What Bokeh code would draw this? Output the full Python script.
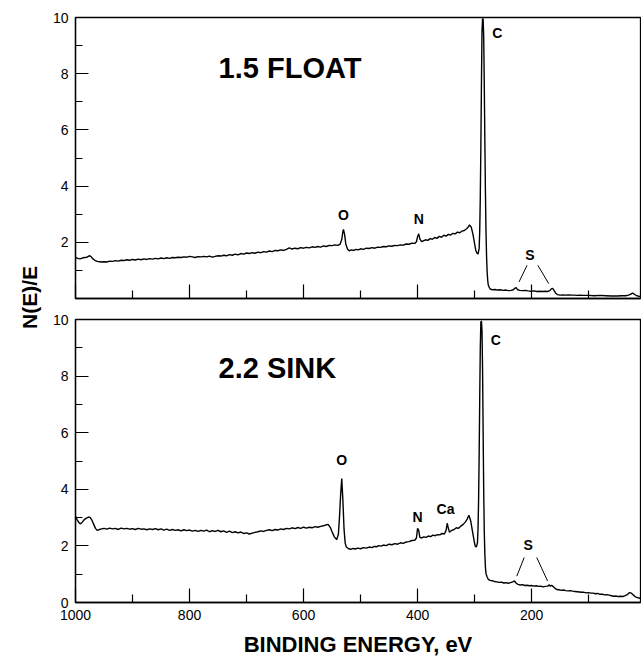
import math
from bokeh.plotting import figure
from bokeh.models import Range1d, FixedTicker, Label, CustomLabelingPolicy
from bokeh.layouts import row, column
from bokeh.embed import file_html
from bokeh.resources import INLINE

FONT = "Liberation Sans"

# ---------------- data (binding energy in eV, N(E)/E) ----------------
float_energy = [1000, 996, 992, 988, 984, 980, 976, 973, 970, 966, 962, 958, 954, 950, 945, 940, 935, 930,
                925, 920, 915, 910, 905, 900, 895, 890, 885, 880, 875, 870, 865, 860, 855, 850, 845, 840,
                835, 830, 825, 820, 815, 810, 805, 800, 795, 790, 785, 780, 775, 770, 765, 760, 755, 750,
                745, 740, 735, 730, 725, 720, 715, 710, 705, 700, 695, 690, 685, 680, 675, 670, 665, 660,
                655, 650, 645, 640, 635, 630, 625, 620, 615, 610, 605, 600, 595, 590, 585, 580, 575, 570,
                565, 560, 555, 550, 545, 540, 536, 533, 531, 530, 528, 526, 523, 520, 516, 512, 508, 504,
                500, 495, 490, 485, 480, 475, 470, 465, 460, 455, 450, 445, 440, 435, 430, 425, 420, 415,
                410, 405, 402, 400, 398, 396, 393, 390, 386, 382, 378, 374, 370, 366, 362, 358, 354, 350,
                346, 342, 338, 334, 330, 326, 322, 318, 314, 311, 309, 306, 303, 300, 298, 296, 294, 292,
                291, 290, 289, 288, 287, 286, 285, 284, 283, 282, 281, 280, 279, 278, 277, 276, 274, 272,
                268, 264, 260, 255, 250, 245, 240, 236, 232, 229, 227, 225, 221, 216, 211, 206, 201, 196,
                191, 186, 181, 176, 172, 168, 165, 163, 161, 158, 155, 150, 145, 140, 135, 130, 125, 120,
                115, 110, 100, 90, 80, 70, 60, 50, 42, 35, 30, 26, 23, 20, 16, 12, 9]
float_signal = [1.46, 1.43, 1.41, 1.44, 1.46, 1.47, 1.52, 1.50, 1.42, 1.36, 1.32, 1.31, 1.30, 1.31, 1.30, 1.33, 1.32, 1.35,
                1.33, 1.36, 1.35, 1.38, 1.36, 1.39, 1.37, 1.40, 1.38, 1.41, 1.39, 1.42, 1.40, 1.43, 1.41, 1.44, 1.42, 1.45,
                1.43, 1.46, 1.45, 1.47, 1.46, 1.48, 1.47, 1.50, 1.48, 1.46, 1.49, 1.48, 1.50, 1.48, 1.51, 1.47, 1.50, 1.52,
                1.51, 1.54, 1.52, 1.56, 1.54, 1.58, 1.55, 1.60, 1.58, 1.62, 1.60, 1.63, 1.61, 1.65, 1.63, 1.67, 1.65, 1.69,
                1.67, 1.71, 1.70, 1.73, 1.71, 1.75, 1.80, 1.76, 1.79, 1.77, 1.81, 1.79, 1.82, 1.80, 1.84, 1.82, 1.85, 1.83,
                1.87, 1.85, 1.89, 1.88, 1.91, 1.89, 1.93, 2.10, 2.38, 2.46, 2.28, 1.95, 1.76, 1.70, 1.73, 1.71, 1.75, 1.73,
                1.77, 1.75, 1.79, 1.78, 1.81, 1.79, 1.83, 1.82, 1.85, 1.84, 1.87, 1.86, 1.89, 1.88, 1.91, 1.90, 1.94, 1.93,
                1.97, 1.96, 2.02, 2.20, 2.30, 2.12, 2.02, 2.05, 2.09, 2.07, 2.13, 2.11, 2.17, 2.14, 2.21, 2.18, 2.25, 2.22,
                2.28, 2.26, 2.32, 2.30, 2.36, 2.34, 2.40, 2.42, 2.48, 2.55, 2.62, 2.55, 2.30, 1.95, 1.72, 1.62, 1.58, 1.78,
                2.4, 3.6, 5.4, 7.6, 9.5, 9.95, 9.95, 9.3, 7.6, 5.6, 3.8, 2.4, 1.5, 0.95, 0.65, 0.48, 0.38, 0.33,
                0.31, 0.32, 0.30, 0.31, 0.29, 0.30, 0.28, 0.29, 0.31, 0.37, 0.39, 0.32, 0.29, 0.28, 0.29, 0.27, 0.26, 0.27,
                0.25, 0.26, 0.25, 0.26, 0.25, 0.28, 0.35, 0.36, 0.30, 0.20, 0.14, 0.12, 0.13, 0.12, 0.13, 0.12, 0.12, 0.11,
                0.12, 0.11, 0.11, 0.10, 0.11, 0.10, 0.09, 0.09, 0.10, 0.10, 0.12, 0.16, 0.19, 0.16, 0.10, 0.08, 0.07]

sink_energy = [1000, 997, 994, 991, 988, 985, 981, 977, 974, 971, 968, 965, 962, 958, 954, 950, 945, 940,
               935, 930, 925, 920, 915, 910, 905, 900, 895, 890, 885, 880, 875, 870, 865, 860, 855, 850,
               845, 840, 835, 830, 825, 820, 815, 810, 805, 800, 795, 790, 785, 780, 775, 770, 765, 760,
               755, 750, 745, 740, 735, 730, 725, 720, 715, 710, 705, 700, 695, 690, 685, 680, 675, 670,
               665, 660, 655, 650, 645, 640, 635, 630, 625, 620, 615, 610, 605, 600, 595, 590, 585, 580,
               575, 570, 565, 561, 557, 553, 550, 546, 542, 539, 537, 535, 533, 531, 529, 527, 525, 521,
               517, 513, 509, 505, 500, 495, 490, 485, 480, 476, 472, 468, 464, 460, 455, 450, 445, 440,
               435, 430, 425, 420, 415, 410, 405, 402, 400, 398, 396, 393, 389, 385, 381, 377, 373, 369,
               365, 361, 357, 353, 350, 348, 346, 344, 340, 336, 332, 328, 324, 320, 316, 313, 310, 307,
               304, 301, 299, 297, 295, 294, 293, 292, 291, 290, 289, 288, 287, 286, 285, 284, 283, 282,
               281, 280, 278, 276, 273, 269, 265, 261, 257, 253, 249, 245, 241, 237, 233, 230, 227, 224,
               220, 216, 212, 208, 204, 200, 196, 192, 188, 184, 180, 176, 172, 169, 167, 165, 162, 159,
               156, 152, 148, 144, 140, 136, 132, 128, 124, 120, 116, 112, 108, 104, 100, 96, 92, 88,
               84, 80, 76, 72, 68, 64, 60, 56, 52, 48, 44, 40, 36, 32, 28, 25, 22, 18, 14, 9]
sink_signal = [3.05, 2.92, 2.82, 2.78, 2.84, 2.92, 2.98, 3.02, 3.00, 2.90, 2.76, 2.62, 2.55, 2.58, 2.60, 2.62, 2.59, 2.63,
               2.60, 2.62, 2.58, 2.63, 2.60, 2.62, 2.59, 2.61, 2.58, 2.62, 2.59, 2.60, 2.57, 2.60, 2.58, 2.61, 2.57, 2.60,
               2.56, 2.59, 2.55, 2.58, 2.55, 2.57, 2.53, 2.57, 2.54, 2.56, 2.52, 2.55, 2.51, 2.55, 2.52, 2.56, 2.50, 2.54,
               2.51, 2.55, 2.50, 2.53, 2.48, 2.52, 2.47, 2.50, 2.46, 2.49, 2.44, 2.46, 2.42, 2.45, 2.48, 2.50, 2.53, 2.51,
               2.55, 2.57, 2.54, 2.58, 2.56, 2.60, 2.58, 2.62, 2.60, 2.64, 2.61, 2.65, 2.62, 2.66, 2.63, 2.66, 2.64, 2.68,
               2.66, 2.69, 2.71, 2.74, 2.76, 2.65, 2.50, 2.32, 2.22, 2.40, 3.00, 3.80, 4.38, 3.60, 2.60, 2.10, 1.96, 1.90,
               1.88, 1.91, 1.89, 1.92, 1.90, 1.94, 1.92, 1.96, 1.94, 1.98, 1.97, 2.01, 1.99, 2.03, 2.01, 2.06, 2.04, 2.08,
               2.06, 2.11, 2.09, 2.14, 2.15, 2.19, 2.20, 2.28, 2.62, 2.55, 2.30, 2.28, 2.32, 2.30, 2.35, 2.33, 2.38, 2.36,
               2.40, 2.39, 2.44, 2.42, 2.55, 2.80, 2.62, 2.48, 2.55, 2.58, 2.64, 2.62, 2.70, 2.76, 2.85, 2.95, 3.08, 2.90,
               2.55, 2.20, 2.00, 1.96, 2.10, 2.6, 3.6, 5.2, 7.2, 9.0, 9.9, 9.95, 9.6, 8.2, 6.0, 3.9, 2.5, 1.7,
               1.25, 1.02, 0.90, 0.82, 0.78, 0.77, 0.74, 0.73, 0.71, 0.72, 0.69, 0.70, 0.68, 0.70, 0.73, 0.76, 0.68, 0.64,
               0.62, 0.63, 0.60, 0.61, 0.59, 0.60, 0.58, 0.59, 0.57, 0.58, 0.55, 0.57, 0.58, 0.62, 0.57, 0.61, 0.56, 0.50,
               0.46, 0.45, 0.43, 0.44, 0.42, 0.41, 0.42, 0.40, 0.39, 0.38, 0.37, 0.36, 0.36, 0.34, 0.35, 0.33, 0.33, 0.31,
               0.32, 0.29, 0.29, 0.27, 0.28, 0.26, 0.24, 0.22, 0.23, 0.21, 0.22, 0.21, 0.24, 0.28, 0.35, 0.33, 0.27, 0.20, 0.17, 0.15]

x_major_ticks = [1000, 800, 600, 400, 200, 0]
x_minor_ticks = [900, 700, 500, 300, 100]
y_minor_ticks = [1, 3, 5, 7, 9]
top_y_ticks = [2, 4, 6, 8, 10]
bottom_y_ticks = [0, 2, 4, 6, 8, 10]

panel_titles = ["1.5 FLOAT", "2.2 SINK"]
float_peaks = [("C", 260, 9.44), ("O", 530, 2.96), ("N", 398, 2.82), ("S", 203, 1.54)]
sink_peaks = [("C", 263, 9.26), ("O", 533, 5.03), ("N", 400, 3.02), ("Ca", 351, 3.29), ("S", 206, 2.03)]
float_s_leaders = ([208, 189], [1.18, 1.18], [222, 170], [0.59, 0.53])
sink_s_leaders = ([213, 191], [1.59, 1.59], [226, 172], [0.93, 0.76])

HIDE_ALL_LABELS = CustomLabelingPolicy(code="""
const ids = Array.from(indices)
for (const i of ids) { indices.unset(i) }
return indices
""")


def make_panel(energy, signal, height, b_top, b_bottom, yticks, show_x_labels):
    p = figure(width=596, height=height, x_range=Range1d(1000, 9), y_range=Range1d(0, 10),
               output_backend="svg", toolbar_location=None,
               min_border_left=30, min_border_right=1, min_border_top=b_top, min_border_bottom=b_bottom,
               background_fill_color="white", border_fill_color="white")
    p.grid.visible = False
    p.outline_line_color = "black"
    p.outline_line_width = 1.3
    p.line(energy, signal, line_color="black", line_width=1.4)

    xa = p.xaxis[0]
    xa.ticker = FixedTicker(ticks=x_major_ticks, minor_ticks=x_minor_ticks)
    xa.major_tick_in = 14
    xa.major_tick_out = 0
    xa.minor_tick_in = 8
    xa.minor_tick_out = 0
    xa.axis_line_width = 1.3
    xa.major_tick_line_width = 1.2
    xa.minor_tick_line_width = 1.2
    xa.major_label_text_font = FONT
    xa.major_label_text_color = "black"
    xa.major_label_text_font_size = "14px"
    if show_x_labels:
        xa.major_label_standoff = 7
        xa.axis_label = "BINDING ENERGY, eV"
        xa.axis_label_text_font = FONT
        xa.axis_label_text_font_style = "bold"
        xa.axis_label_text_font_size = "22px"
        xa.axis_label_text_color = "black"
        xa.axis_label_standoff = 9
    else:
        xa.major_label_policy = HIDE_ALL_LABELS
        xa.major_label_standoff = 0

    ya = p.yaxis[0]
    ya.ticker = FixedTicker(ticks=yticks, minor_ticks=y_minor_ticks)
    ya.major_tick_in = 13
    ya.major_tick_out = 0
    ya.minor_tick_in = 7
    ya.minor_tick_out = 0
    ya.axis_line_width = 1.3
    ya.major_tick_line_width = 1.2
    ya.minor_tick_line_width = 1.2
    ya.major_label_text_font = FONT
    ya.major_label_text_font_size = "14px"
    ya.major_label_text_color = "black"
    ya.major_label_standoff = 7
    return p


def add_labels(p, title, title_y, peaks, leaders):
    p.add_layout(Label(x=749, y=title_y, text=title, text_font=FONT, text_font_style="bold",
                       text_font_size="29px", text_align="left", text_baseline="alphabetic",
                       text_color="black"))
    for name, e, v in peaks:
        p.add_layout(Label(x=e, y=v, text=name, text_font=FONT, text_font_style="bold",
                           text_font_size="14px", text_align="center", text_baseline="middle",
                           text_color="black"))
    x0, y0, x1, y1 = leaders
    p.segment(x0=x0, y0=y0, x1=x1, y1=y1, line_color="black", line_width=1)


top = make_panel(float_energy, float_signal, 311, 17, 10, top_y_ticks, False)
add_labels(top, panel_titles[0], 8.2, float_peaks, float_s_leaders)

bottom = make_panel(sink_energy, sink_signal, 348, 8, 56, bottom_y_ticks, True)
add_labels(bottom, panel_titles[1], 8.27, sink_peaks, sink_s_leaders)

side = figure(width=45, height=659, x_range=Range1d(0, 45), y_range=Range1d(0, 659),
              x_axis_type=None, y_axis_type=None, min_border=0, outline_line_color=None,
              toolbar_location=None, output_backend="svg",
              background_fill_color="white", border_fill_color="white")
side.grid.visible = False
side.add_layout(Label(x=29, y=362, text="N(E)/E", angle=math.pi / 2, text_font=FONT,
                      text_font_style="bold", text_font_size="21px", text_align="center",
                      text_baseline="middle", text_color="black"))

layout = row(side, column(top, bottom))

with open("out.html", "w") as f:
    f.write(file_html(layout, INLINE))
